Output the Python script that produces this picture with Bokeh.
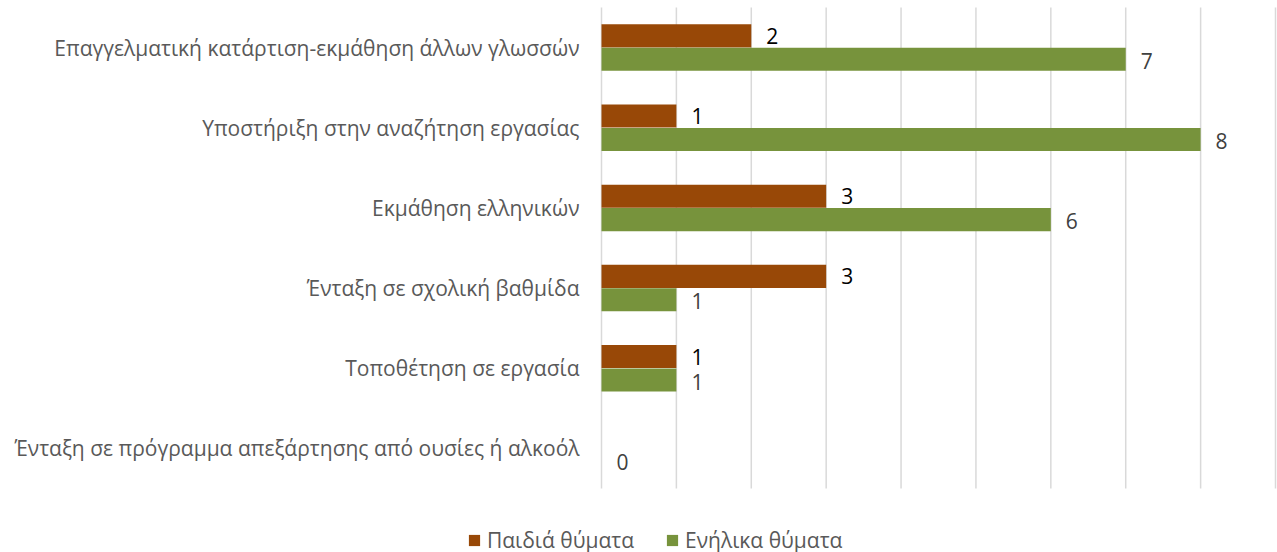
from bokeh.plotting import figure
from bokeh.models import ColumnDataSource, Legend, LegendItem, Range1d
from bokeh.transform import dodge
from bokeh.core.properties import value
from bokeh.embed import file_html
from bokeh.resources import INLINE

categories = [
    "Επαγγελματική κατάρτιση-εκμάθηση άλλων γλωσσών",
    "Υποστήριξη στην αναζήτηση εργασίας",
    "Εκμάθηση ελληνικών",
    "Ένταξη σε σχολική βαθμίδα",
    "Τοποθέτηση σε εργασία",
    "Ένταξη σε πρόγραμμα απεξάρτησης από ουσίες ή αλκοόλ",
]
children = [2, 1, 3, 3, 1, None]
adults = [7, 8, 6, 1, 1, 0]
series_names = ["Παιδιά θύματα", "Ενήλικα θύματα"]
x_ticks = [0, 1, 2, 3, 4, 5, 6, 7, 8, 9]

BROWN = "#984807"
GREEN = "#77933C"
FONT = "Open Sans"
FS = "21px"

W, H = 1277, 552
X0_PX, X9_PX = 601, 1275          # screen position of value 0 and 9
TOP_PX, BAND_PX = 7, 80.17        # top of first category band, band height
ppu = (X9_PX - X0_PX) / 9.0
n = len(categories)

p = figure(width=W, height=H,
           x_range=Range1d(-X0_PX / ppu, 9 + (W - X9_PX) / ppu),
           y_range=Range1d(n - 0.5 - (H - TOP_PX) / BAND_PX, n - 0.5 + TOP_PX / BAND_PX),
           output_backend="svg", toolbar_location=None,
           min_border=0)
p.axis.visible = False
p.grid.visible = False
p.outline_line_color = None
p.background_fill_color = "white"
p.border_fill_color = "white"

ypos = [n - 1 - i for i in range(n)]

# vertical gridlines (value grid), spanning the category bands
p.segment(x0=x_ticks, x1=x_ticks, y0=[-0.5] * len(x_ticks), y1=[n - 0.5] * len(x_ticks),
          line_color="#D9D9D9", line_width=1.5)

# category labels
p.text(x=[0] * n, y=ypos, text=categories, x_offset=-22,
       text_align="right", text_baseline="middle",
       text_font=value(FONT), text_font_size=FS, text_color="#595959")

c_src = ColumnDataSource(dict(y=[y for y, v in zip(ypos, children) if v is not None],
                              val=[v for v in children if v is not None]))
a_src = ColumnDataSource(dict(y=ypos, val=adults))
c_src.data["lab"] = [str(v) for v in c_src.data["val"]]
a_src.data["lab"] = [str(v) for v in a_src.data["val"]]

off = 0.146
bh = 0.2875
r1 = p.hbar(y=dodge("y", off), left=0, right="val", height=bh,
            source=c_src, fill_color=BROWN, line_color=None)
r2 = p.hbar(y=dodge("y", -off), left=0, right="val", height=bh,
            source=a_src, fill_color=GREEN, line_color=None)

p.text(x="val", y=dodge("y", off), text="lab", source=c_src,
       x_offset=15, text_align="left", text_baseline="middle",
       text_font=value(FONT), text_font_size=FS, text_color="#000000")
p.text(x="val", y=dodge("y", -off - 0.02), text="lab", source=a_src,
       x_offset=15, text_align="left", text_baseline="middle",
       text_font=value(FONT), text_font_size=FS, text_color="#404040")

legend = Legend(items=[LegendItem(label=series_names[0], renderers=[r1]),
                       LegendItem(label=series_names[1], renderers=[r2])],
                orientation="horizontal", location=(467, -2),
                padding=0, margin=0, spacing=31,
                glyph_width=14, glyph_height=14, label_standoff=6,
                label_height=20,
                label_text_font=FONT, label_text_font_size=FS,
                label_text_color="#595959",
                border_line_color=None, background_fill_alpha=0)
p.add_layout(legend, "center")

open("out.html", "w").write(file_html(p, INLINE))
